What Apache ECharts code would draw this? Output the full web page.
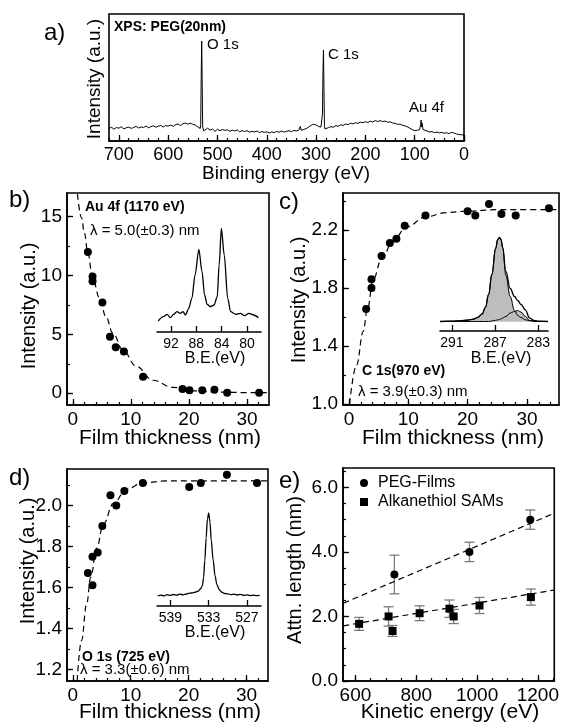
<!DOCTYPE html>
<html>
<head>
<meta charset="utf-8">
<script src="https://cdn.jsdelivr.net/npm/echarts@6/dist/echarts.min.js"></script>
<style>
html,body{margin:0;padding:0;background:#fff}
#main{width:562px;height:724px}
</style>
</head>
<body>
<div id="main"></div>
<script>
// ---------- data ----------
// a) XPS survey, PEG 20 nm (binding energy, counts a.u.)
var surveyBE = [720,715,710,705,700,695,690,685,680,675,670,665,660,655,650,645,640,635,630,625,620,615,610,605,600,595,590,585,580,575,570,565,560,555,550,545,540,535,
  534,533,532,531,530,528,525,520,515,510,505,500,495,490,485,480,475,470,465,460,455,450,445,440,435,430,425,420,415,410,405,400,395,390,385,380,375,370,365,360,355,350,345,340,335,332,330,325,320,315,310,305,300,295,292,290,
  288,287,286,285,284,283,282,280,275,270,265,260,255,250,245,240,235,230,225,220,215,210,205,200,195,190,185,180,175,170,165,160,155,150,145,140,135,130,125,120,115,110,105,100,95,90,
  88,87,86,85,84,83,80,75,70,65,60,55,50,45,40,35,30,25,20,15,10,5,0];
var surveyI = [9.8,10.9,9.3,10.6,10.1,11.2,9.6,10.4,11.0,9.9,10.7,11.5,10.2,11.1,10.6,11.8,10.4,11.3,12.0,10.9,11.6,12.3,11.0,12.2,11.7,12.6,11.5,12.9,13.4,12.2,13.6,14.1,13.3,14.0,13.2,12.5,11.2,9.8,
  13,50,78.7,45,11,8.0,8.2,10.1,8.6,9.4,7.6,9.3,8.1,9.0,8.4,8.8,7.6,8.5,7.9,8.7,7.3,8.1,7.5,8.2,6.9,7.7,7.1,7.9,6.6,7.4,6.8,7.2,6.3,7.1,6.7,7.5,6.9,7.8,7.0,7.6,8.1,7.4,8.3,7.9,8.6,11.5,8.4,9.1,9.8,11.0,12.4,13.2,12.6,11.4,10.2,11.0,
  10.5,22,55,71.7,40,12,9.5,8.8,10.5,11.3,10.8,12.1,11.6,12.8,12.3,13.4,12.9,14.0,13.5,14.4,13.9,14.8,14.3,15.2,14.6,15.6,15.0,16.1,15.4,16.0,15.3,15.7,14.8,15.1,14.2,14.0,13.1,13.3,12.4,12.0,11.2,10.1,9.0,8.2,8.5,9.0,
  13,16.5,11,14,15,9,7.6,7.9,7.1,7.4,6.6,7.0,6.4,6.8,6.1,6.5,5.8,6.9,6.2,5.5,5.1,4.9,4.6];

// b) Au 4f (1170 eV)
var bThick = [2.6,3.4,3.4,5.1,6.4,7.4,8.8,12.1,18.9,20.1,22.3,24.4,26.6,32.1];
var bInt   = [12.0,9.9,9.5,7.7,4.8,3.9,3.55,1.4,0.35,0.25,0.25,0.3,0.05,0.05];
var bFitX  = [0.8,1.5,2.0,2.6,3.4,4.6,5.7,6.9,8.6,10.9,13.8,17.2,20.7,25,30,33.7];
var bFitY  = [16.9,14.9,13.6,11.9,9.8,8.1,6.5,5.1,3.7,2.3,1.1,0.5,0.2,0.1,0.05,0.05];
var auBE   = [94.0,93.2,92.6,92.1,91.6,91.05,90.5,90.1,89.7,89.2,88.7,88.2,87.6,87.1,86.7,86.3,85.8,85.2,84.7,84.4,84.05,83.6,83.05,82.6,81.8,81.05,80.4,79.7,78.95,78.2];
var auI    = [11,15.3,17.7,14.3,17.7,20.3,18.7,20.3,17,23.7,33.7,57,82.7,60.3,37,27.7,25.3,27,35.3,67,103.7,77,33.7,20.3,17.7,18.7,16.3,18.7,17,14.3];

// c) C 1s (970 eV)
var cThick = [2.9,3.8,3.8,5.5,6.9,8.0,9.4,12.9,20.0,21.3,23.6,25.7,28.1,33.7];
var cInt   = [1.655,1.86,1.80,2.02,2.11,2.14,2.23,2.30,2.33,2.30,2.38,2.31,2.30,2.35];
var cFitX  = [0.1,1.3,2.4,3.1,4.1,5.5,7.5,9.7,12.9,16.4,20,25,30,35.4];
var cFitY  = [1.0,1.27,1.5,1.65,1.86,2.0,2.13,2.22,2.29,2.32,2.33,2.34,2.34,2.34];
var c1sBE   = [292.1,291.0,290.2,289.6,289.0,288.6,288.2,287.9,287.6,287.3,286.95,286.75,286.6,286.45,286.3,286.0,285.6,285.2,284.9,284.6,284.2,283.8,283.4,283.0,282.1];
var c1sEnv  = [0,0.3,0.7,1.3,2.4,4.2,7.5,14,27,47,73,82,84,82,74,50,33,25,21,17,11.7,3.4,1.0,0.3,0];
var c1sMain = [0,0.3,0.7,1.3,2.4,4.2,7.5,14,27,47,73,82,84,82,74,46,25,11,6,4,1.7,0.8,0.3,0.1,0];
var c1sSide = [0,0,0,0,0,0,0,0,0,0.5,1.2,1.6,2.0,2.6,3.5,5,8.5,10,11,9.5,5,1.0,0.3,0,0];

// d) O 1s (725 eV)
var dThick = [2.6,3.4,3.4,4.3,5.1,6.5,7.5,8.9,12.1,20.1,22.1,26.6,31.8];
var dInt   = [1.67,1.75,1.61,1.77,1.90,2.05,2.00,2.07,2.11,2.09,2.11,2.15,2.11];
var dFitX  = [0.75,1.5,2.4,3.1,4.1,5.3,7.0,9.3,12.1,16.1,20,25,30,33.7];
var dFitY  = [1.143,1.34,1.52,1.65,1.79,1.91,2.01,2.08,2.11,2.12,2.12,2.12,2.12,2.12];
var o1sBE  = [541,540.5,540,539.5,539,538.5,538,537.5,537,536.5,536,535.5,535,534.6,534.3,534.0,533.8,533.6,533.4,533.2,533.0,532.8,532.6,532.3,532.0,531.7,531.3,531,530.5,530,529.5,529,528.5,528,527.5,527,526.5,526,525.5,525];
var o1sI   = [10.0,10.8,10.2,11.3,10.6,11.5,10.9,11.8,11.2,12.0,12.8,13.2,14.0,15.0,17.0,20,28,46,68,87,93,84,66,46,30,21,16,14,12.5,12.2,11.3,11.9,11.0,11.6,10.6,11.2,10.4,10.9,10.3,10.6];

// e) attenuation length vs kinetic energy
var pegKE  = [728,975,1175];
var pegLen = [3.3,4.0,5.0];
var pegErr = [0.6,0.3,0.3];
var samKE  = [612,709,722,811,909,923,1008,1177];
var samLen = [1.77,2.0,1.55,2.1,2.24,2.0,2.34,2.6];
var samErr = [0.2,0.3,0.17,0.23,0.27,0.22,0.25,0.25];
var pegFit = [[560,2.41],[1254,5.2]];
var samFit = [[560,1.71],[1254,2.82]];

// tick labels
var aTicks = [700,600,500,400,300,200,100,0];
var thickTicks = [0,10,20,30];
var bYTicks = [0,5,10,15];
var cYTicks = [1.0,1.4,1.8,2.2];
var dYTicks = [1.2,1.4,1.6,1.8,2.0];
var eXTicks = [600,800,1000,1200];
var eYTicks = [0,2,4,6];
var auTicks = [92,88,84,80];
var c1sTicks = [291,287,283];
var o1sTicks = [539,533,527];

// ---------- helpers ----------
var FONT = 'Liberation Sans, Arial, sans-serif';
function pairs(xs, ys) { return xs.map(function (x, i) { return [x, ys[i]]; }); }
function steps(a, b, s) {
    var out = [];
    for (var v = a; v <= b + 1e-9; v += s) out.push(Math.round(v * 1000) / 1000);
    return out;
}

var xAxes = [], yAxes = [];
// main axis + a label-less twin for the minor ticks
function addAxis(list, pos, g, min, max, major, minor, fmt, size, inverse) {
    var idx = list.length;
    list.push({
        type: 'value', gridIndex: g, min: min, max: max, inverse: !!inverse, position: pos,
        axisLine: { show: true, onZero: false, lineStyle: { color: '#000', width: 1.6 } },
        axisTick: { show: true, inside: true, length: 6, customValues: major, lineStyle: { color: '#000', width: 1.3 } },
        axisLabel: { customValues: major, formatter: fmt, color: '#000', fontSize: size, fontFamily: FONT, margin: 5 },
        splitLine: { show: false }
    });
    if (minor) {
        list.push({
            type: 'value', gridIndex: g, min: min, max: max, inverse: !!inverse, position: pos,
            axisLine: { show: false, onZero: false },
            axisTick: { show: true, inside: true, length: 3, customValues: minor, lineStyle: { color: '#000', width: 1.2 } },
            axisLabel: { show: false }, splitLine: { show: false }
        });
    }
    return idx;
}
function hiddenAxis(list, g, min, max) {
    list.push({ type: 'value', gridIndex: g, min: min, max: max, show: false, splitLine: { show: false } });
    return list.length - 1;
}
function fmt0(v) { return String(v); }
function fmt1(v) { return v.toFixed(1); }

function txt(s, x, y, size, opt) {
    opt = opt || {};
    return {
        type: 'text', x: x, y: y, rotation: opt.rot || 0, z: 100,
        style: { text: s, fontSize: size, fontFamily: FONT, fontWeight: opt.bold ? 'bold' : 'normal',
                 fill: '#000', align: opt.align || 'left', verticalAlign: 'middle' }
    };
}

// ---------- grids ----------
var box = { show: true, borderColor: '#000', borderWidth: 1.6, backgroundColor: 'transparent' };
var grids = [
    Object.assign({ left: 109, top: 14, width: 355, height: 127 }, box),   // 0 a
    Object.assign({ left: 67, top: 193, width: 202, height: 212 }, box),   // 1 b
    { left: 157, top: 222, width: 104, height: 110 },                      // 2 b inset
    Object.assign({ left: 343, top: 193, width: 216, height: 212 }, box),  // 3 c
    { left: 440, top: 231, width: 108, height: 100 },                      // 4 c inset
    Object.assign({ left: 67, top: 469, width: 201, height: 212 }, box),   // 5 d
    { left: 157, top: 510, width: 104, height: 96 },                       // 6 d inset
    Object.assign({ left: 343, top: 468, width: 216, height: 213 }, box)   // 7 e
];

// a
var ax = addAxis(xAxes, 'bottom', 0, 0, 720, aTicks, steps(0, 720, 20), fmt0, 18, true);
var ay = hiddenAxis(yAxes, 0, 0, 100);
// b
var bx = addAxis(xAxes, 'bottom', 1, -1, 33.8, thickTicks, steps(0, 32, 2), fmt0, 19);
var by = addAxis(yAxes, 'left', 1, -1, 17, bYTicks, steps(0, 17, 2.5), fmt0, 19);
var bix = addAxis(xAxes, 'bottom', 2, 77.8, 94.2, auTicks, null, fmt0, 14, true);
var biy = hiddenAxis(yAxes, 2, 0, 110);
// c
var cx = addAxis(xAxes, 'bottom', 3, -1, 35.4, thickTicks, steps(0, 34, 2), fmt0, 19);
var cy = addAxis(yAxes, 'left', 3, 0.993, 2.455, cYTicks, steps(1.0, 2.4, 0.2), fmt1, 19);
var cix = addAxis(xAxes, 'bottom', 4, 282.1, 292.1, c1sTicks, null, fmt0, 14, true);
var ciy = hiddenAxis(yAxes, 4, -9.5, 90.5);
// d
var dx = addAxis(xAxes, 'bottom', 5, -1, 33.7, thickTicks, steps(0, 32, 2), fmt0, 19);
var dy = addAxis(yAxes, 'left', 5, 1.143, 2.178, dYTicks, steps(1.2, 2.1, 0.1), fmt1, 19);
var dix = addAxis(xAxes, 'bottom', 6, 524.8, 541.1, o1sTicks, null, fmt0, 14, true);
var diy = hiddenAxis(yAxes, 6, 0, 96);
// e
var ex = addAxis(xAxes, 'bottom', 7, 559, 1254, eXTicks, steps(600, 1250, 50), fmt0, 19);
var ey = addAxis(yAxes, 'left', 7, 0, 6.6, eYTicks, steps(0, 6.5, 0.5), fmt1, 19);

// ---------- series ----------
function line(xi, yi, data, opt) {
    opt = opt || {};
    return {
        type: 'line', xAxisIndex: xi, yAxisIndex: yi, data: data, symbol: 'none',
        smooth: opt.smooth || false, smoothMonotone: opt.smooth ? 'x' : undefined,
        lineStyle: { color: '#000', width: opt.width || 1.2, type: opt.dash ? [6, 4] : 'solid' },
        areaStyle: opt.fill ? { color: opt.fill, opacity: 1 } : undefined,
        z: opt.z || 3, silent: true
    };
}
function dots(xi, yi, data, sym, name) {
    return {
        type: 'scatter', name: name, xAxisIndex: xi, yAxisIndex: yi, data: data,
        symbol: sym || 'circle', symbolSize: 8, itemStyle: { color: '#000', opacity: 1 }, z: 5
    };
}
function errBars(xi, yi, xs, ys, es) {
    var data = xs.map(function (x, i) { return [x, ys[i] - es[i], ys[i] + es[i]]; });
    return {
        type: 'custom', xAxisIndex: xi, yAxisIndex: yi, data: data, z: 2, silent: true,
        encode: { x: 0, y: [1, 2] },
        renderItem: function (params, api) {
            var top = api.coord([api.value(0), api.value(2)]);
            var bot = api.coord([api.value(0), api.value(1)]);
            var w = 5, st = { stroke: '#7a7a7a', lineWidth: 1.3 };
            return { type: 'group', children: [
                { type: 'line', shape: { x1: top[0], y1: top[1], x2: bot[0], y2: bot[1] }, style: st },
                { type: 'line', shape: { x1: top[0] - w, y1: top[1], x2: top[0] + w, y2: top[1] }, style: st },
                { type: 'line', shape: { x1: bot[0] - w, y1: bot[1], x2: bot[0] + w, y2: bot[1] }, style: st }
            ] };
        }
    };
}

var series = [
    line(ax, ay, pairs(surveyBE, surveyI), { width: 1 }),

    line(bx, by, pairs(bFitX, bFitY), { dash: true, smooth: 0.4 }),
    dots(bx, by, pairs(bThick, bInt)),
    line(bix, biy, pairs(auBE, auI), { smooth: 0.3, width: 1.3 }),

    line(cx, cy, pairs(cFitX, cFitY), { dash: true, smooth: 0.4 }),
    dots(cx, cy, pairs(cThick, cInt)),
    line(cix, ciy, pairs(c1sBE, c1sMain), { smooth: 0.4, width: 1, fill: '#bdbdbd', z: 2 }),
    line(cix, ciy, pairs(c1sBE, c1sSide), { smooth: 0.4, width: 1, fill: '#bdbdbd', z: 2 }),
    line(cix, ciy, pairs(c1sBE, c1sEnv), { smooth: 0.4, width: 1.3, z: 4 }),

    line(dx, dy, pairs(dFitX, dFitY), { dash: true, smooth: 0.4 }),
    dots(dx, dy, pairs(dThick, dInt)),
    line(dix, diy, pairs(o1sBE, o1sI), { smooth: 0.3, width: 1.3 }),

    line(ex, ey, pegFit, { dash: true }),
    line(ex, ey, samFit, { dash: true }),
    errBars(ex, ey, pegKE, pegLen, pegErr),
    errBars(ex, ey, samKE, samLen, samErr),
    dots(ex, ey, pairs(pegKE, pegLen), 'circle', 'PEG-Films'),
    dots(ex, ey, pairs(samKE, samLen), 'rect', 'Alkanethiol SAMs')
];

// ---------- texts ----------
var rot = Math.PI / 2;
var texts = [
    txt('a)', 44, 33, 24),
    txt('XPS: PEG(20nm)', 114, 27, 14, { bold: true }),
    txt('O 1s', 207, 45, 15),
    txt('C 1s', 328, 55, 15),
    txt('Au 4f', 409, 108, 15),
    txt('Intensity (a.u.)', 95, 79, 19, { rot: rot, align: 'center' }),
    txt('Binding energy (eV)', 286, 174, 19, { align: 'center' }),

    txt('b)', 9, 200, 24),
    txt('Au 4f (1170 eV)', 85, 207, 14, { bold: true }),
    txt('\u03bb = 5.0(\u00b10.3) nm', 90, 231, 15),
    txt('B.E.(eV)', 215, 359, 16, { align: 'center' }),
    txt('Intensity (a.u.)', 29, 306, 20, { rot: rot, align: 'center' }),
    txt('Film thickness (nm)', 170, 438, 21, { align: 'center' }),

    txt('c)', 279, 202, 24),
    txt('C 1s(970 eV)', 362, 371, 14, { bold: true }),
    txt('\u03bb = 3.9(\u00b10.3) nm', 358, 392, 15),
    txt('B.E.(eV)', 501, 359, 16, { align: 'center' }),
    txt('Intensity (a.u.)', 299, 300, 20, { rot: rot, align: 'center' }),
    txt('Film thickness (nm)', 453, 438, 21, { align: 'center' }),

    txt('d)', 9, 478, 24),
    txt('O 1s (725 eV)', 82, 657, 14, { bold: true }),
    txt('\u03bb = 3.3(\u00b10.6) nm', 80, 670, 15),
    txt('B.E.(eV)', 215, 633, 16, { align: 'center' }),
    txt('Intensity (a.u.)', 28, 561, 20, { rot: rot, align: 'center' }),
    txt('Film thickness (nm)', 170, 712, 21, { align: 'center' }),

    txt('e)', 279, 481, 24),
    txt('Attn. length (nm)', 295, 570, 20, { rot: rot, align: 'center' }),
    txt('Kinetic energy (eV)', 450, 712, 21, { align: 'center' })
];

var myChart = echarts.init(document.getElementById('main'), null, { renderer: 'canvas' });
myChart.setOption({
    animation: false,
    backgroundColor: '#fff',
    grid: grids,
    xAxis: xAxes,
    yAxis: yAxes,
    legend: {
        data: ['PEG-Films', 'Alkanethiol SAMs'], orient: 'vertical', left: 355, top: 469,
        itemWidth: 8, itemHeight: 8, itemGap: 1, selectedMode: false,
        textStyle: { fontSize: 16, fontFamily: FONT, color: '#000', padding: [0, 0, 0, 5], lineHeight: 18 }
    },
    series: series,
    graphic: texts
});
</script>
</body>
</html>
